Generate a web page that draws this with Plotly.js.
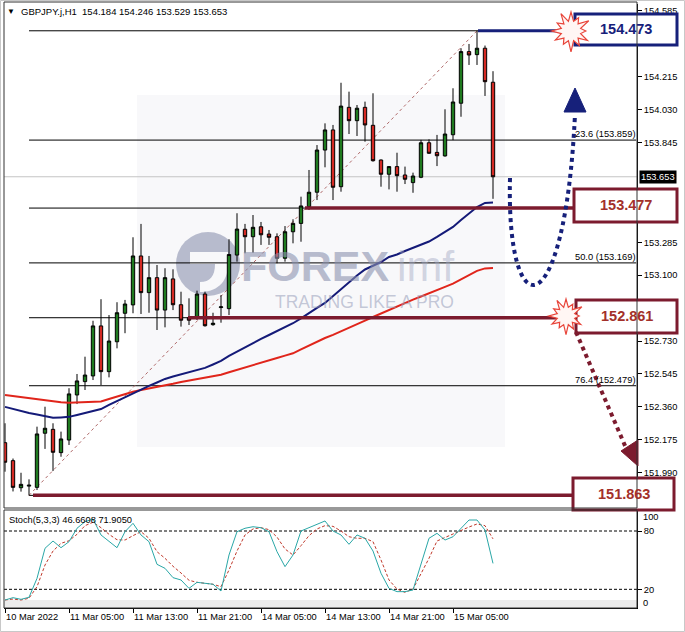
<!DOCTYPE html>
<html><head><meta charset="utf-8">
<script src="https://cdn.plot.ly/plotly-3.0.1.min.js"></script>
<style>html,body{margin:0;padding:0;background:#fff;}#chart{width:685px;height:632px;}</style>
</head><body><div id="chart"></div>
<script>
const times = [
"10 Mar 21:00","10 Mar 22:00","10 Mar 23:00",
"11 Mar 00:00","11 Mar 01:00","11 Mar 02:00","11 Mar 03:00","11 Mar 04:00","11 Mar 05:00","11 Mar 06:00","11 Mar 07:00",
"11 Mar 08:00","11 Mar 09:00","11 Mar 10:00","11 Mar 11:00","11 Mar 12:00","11 Mar 13:00","11 Mar 14:00","11 Mar 15:00",
"11 Mar 16:00","11 Mar 17:00","11 Mar 18:00","11 Mar 19:00","11 Mar 20:00","11 Mar 21:00","11 Mar 22:00","11 Mar 23:00",
"14 Mar 00:00","14 Mar 01:00","14 Mar 02:00","14 Mar 03:00","14 Mar 04:00","14 Mar 05:00","14 Mar 06:00","14 Mar 07:00",
"14 Mar 08:00","14 Mar 09:00","14 Mar 10:00","14 Mar 11:00","14 Mar 12:00","14 Mar 13:00","14 Mar 14:00","14 Mar 15:00",
"14 Mar 16:00","14 Mar 17:00","14 Mar 18:00","14 Mar 19:00","14 Mar 20:00","14 Mar 21:00","14 Mar 22:00","14 Mar 23:00",
"15 Mar 00:00","15 Mar 01:00","15 Mar 02:00","15 Mar 03:00","15 Mar 04:00","15 Mar 05:00","15 Mar 06:00","15 Mar 07:00",
"15 Mar 08:00","15 Mar 09:00","15 Mar 10:00"];

const openP = [152.159,152.058,151.906,151.915,151.908,152.212,152.234,152.103,152.174,152.427,
152.502,152.534,152.815,152.558,152.726,152.886,152.933,153.208,153.002,153.086,
152.904,153.079,152.934,152.861,152.867,152.994,152.822,152.918,152.912,153.213,
153.358,153.316,153.372,153.331,153.316,153.195,153.344,153.391,153.485,153.566,
153.803,153.916,153.597,154.043,153.968,154.043,153.942,153.747,153.667,153.710,
153.663,153.620,153.650,153.844,153.790,153.770,153.889,154.066,154.356,154.339,
154.375,154.184];
const highP = [152.268,152.070,151.990,151.953,152.249,152.361,152.268,152.221,152.465,152.545,
152.642,152.844,152.965,152.876,152.948,152.961,153.313,153.388,153.208,153.157,
153.139,153.133,153.007,152.970,153.013,153.007,152.889,152.988,153.302,153.448,
153.388,153.438,153.399,153.354,153.335,153.376,153.414,153.541,153.691,153.831,
153.953,153.944,154.181,154.131,154.056,154.075,154.122,153.750,153.712,153.788,
153.710,153.676,153.860,153.863,153.888,154.032,154.150,154.375,154.399,154.473,
154.390,154.246];
const lowP = [151.996,151.885,151.884,151.863,151.893,152.124,152.000,152.080,152.146,152.376,
152.455,152.511,152.483,152.526,152.689,152.774,152.886,152.882,152.889,152.792,
152.807,152.904,152.811,152.820,152.848,152.811,152.816,152.833,152.876,153.176,
153.223,153.226,153.270,153.270,153.167,153.176,153.279,153.288,153.466,153.522,
153.706,153.522,153.569,153.893,153.882,153.850,153.738,153.597,153.582,153.569,
153.612,153.563,153.645,153.781,153.713,153.766,153.859,153.990,154.281,154.281,
154.107,153.529];
const closeP = [152.049,151.908,151.925,151.920,152.208,152.240,152.105,152.180,152.433,152.506,
152.539,152.815,152.558,152.730,152.889,152.938,153.208,153.002,153.086,152.904,
153.086,152.934,152.847,152.847,152.994,152.816,152.830,152.922,153.216,153.359,
153.316,153.369,153.327,153.313,153.195,153.344,153.391,153.489,153.566,153.803,
153.916,153.594,154.050,153.968,154.038,153.944,153.743,153.667,153.710,153.659,
153.639,153.657,153.844,153.785,153.771,153.893,154.073,154.356,154.337,154.375,
154.187,153.653];

const maBlue = [152.360,152.348,152.334,152.326,152.317,152.306,152.299,152.301,152.304,152.315,
152.326,152.337,152.348,152.371,152.393,152.416,152.436,152.458,152.478,152.497,
152.517,152.531,152.542,152.553,152.565,152.579,152.598,152.618,152.646,152.671,
152.694,152.717,152.742,152.764,152.786,152.809,152.830,152.857,152.888,152.916,
152.944,152.983,153.022,153.062,153.098,153.132,153.154,153.174,153.202,153.216,
153.236,153.253,153.270,153.289,153.315,153.343,153.371,153.410,153.447,153.483,
153.506,153.508];
const maRed = [152.427,152.421,152.415,152.409,152.403,152.398,152.392,152.386,152.384,152.385,
152.386,152.388,152.390,152.404,152.419,152.433,152.445,152.455,152.463,152.472,
152.481,152.490,152.500,152.508,152.518,152.525,152.533,152.541,152.555,152.569,
152.581,152.595,152.608,152.622,152.635,152.648,152.661,152.683,152.705,152.728,
152.747,152.765,152.784,152.806,152.826,152.845,152.865,152.885,152.904,152.924,
152.944,152.963,152.980,152.997,153.017,153.034,153.053,153.076,153.101,153.124,
153.138,153.140];

const stochMain = [9.0,11.4,9.7,11.8,31.3,62.2,69.7,62.8,69.0,82.8,
89.6,92.3,75.9,69.7,62.8,79.3,87.9,75.9,69.0,45.7,
41.6,32.0,29.6,21.0,27.2,26.2,25.2,18.3,55.3,79.3,
82.8,84.4,83.4,79.3,58.7,43.3,55.3,80.0,83.4,86.2,
90.3,80.0,75.9,66.3,75.9,72.5,59.4,36.5,21.0,17.6,
17.6,19.3,46.8,72.5,77.6,70.7,74.1,82.8,91.3,91.3,
81.0,46.6608];
const stochSignal = [9.0,10.0,9.0,10.8,22.7,45.0,59.4,67.3,70.0,76.6,
85.5,89.0,83.4,76.6,71.0,70.7,75.2,79.3,72.5,58.7,
51.9,43.7,36.8,29.3,27.2,26.5,25.2,22.7,39.9,59.4,
75.9,82.1,83.4,81.4,73.8,61.5,55.3,64.9,75.2,82.1,
85.5,84.8,80.0,74.1,72.5,72.5,69.0,50.2,29.6,20.3,
16.9,20.3,35.5,51.9,69.7,73.5,76.6,81.0,84.1,87.2,
85.5,71.905];

const tickTimes = ["10 Mar 21:00","11 Mar 05:00","11 Mar 13:00","11 Mar 21:00","14 Mar 05:00","14 Mar 13:00","14 Mar 21:00","15 Mar 05:00"];
const tickLabels = ["10 Mar 2022","11 Mar 05:00","11 Mar 13:00","11 Mar 21:00","14 Mar 05:00","14 Mar 13:00","14 Mar 21:00","15 Mar 05:00"];
const priceTicks = [154.585,154.215,154.030,153.845,153.285,153.100,152.730,152.545,152.360,152.175,151.990];
const stochTicks = [20,80];
const stochEdgeLabels = ["100","0"];

const fibLevels = [154.473,153.859,153.477,153.169,152.861,152.479,151.863];
const fibShownLevels = [153.859,153.169,152.479];
const fibShownLabels = ["23.6 (153.859)","50.0 (153.169)","76.4 (152.479)"];
const fibStart = {time:"11 Mar 00:00", price:151.863};
const fibEnd = {time:"15 Mar 08:00", price:154.473};
const lastPrice = 153.653;
const headerText = "GBPJPY.j,H1  154.184 154.246 153.529 153.653";
const stochText = "Stoch(5,3,3) 46.6608 71.9050";
const keyLevels = [154.473,153.477,152.861,151.863];
const keyLabels = ["154.473","153.477","152.861","151.863"];

// ---------- geometry helpers (pixels -> paper) ----------
const L=4,R=637,T=4,B=608;
const fx = px => (px-L)/(R-L);
const fy = py => (B-py)/(B-T);
const P = (px,py) => fx(px)+','+fy(py);
const FONT = 'Liberation Sans, Arial, sans-serif';
const NAVY = '#16207a', MAROON = '#7c1b2e', MTEXT = '#a3302a';

const shapes = [];
const ann = [];
function txt(o){ return Object.assign({showarrow:false,xanchor:'center',yanchor:'middle',borderpad:0},o); }

// outer frame
shapes.push({type:'rect',xref:'paper',yref:'paper',x0:fx(0.5),x1:fx(684.5),y0:fy(0.5),y1:fy(631.5),line:{color:'#c8c8c8',width:1},layer:'below'});
// watermark background block
shapes.push({type:'rect',xref:'paper',yref:'paper',x0:fx(137),x1:fx(505),y0:fy(95),y1:fy(447),fillcolor:'#f8f8fa',line:{width:0},layer:'below'});
// stoch grey band
shapes.push({type:'rect',xref:'paper',yref:'paper',x0:0,x1:1,y0:fy(608),y1:fy(600),fillcolor:'#ececec',line:{width:0},layer:'below'});
// current price line
shapes.push({type:'line',xref:'paper',yref:'y',x0:0,x1:1,y0:lastPrice,y1:lastPrice,line:{color:'#c4c4c4',width:1},layer:'below'});
// fib level lines
fibLevels.forEach(v=>shapes.push({type:'line',xref:'x',yref:'y',x0:fibStart.time,x1:78.9,y0:v,y1:v,line:{color:'#000',width:1},layer:'below'}));
// fib diagonal
shapes.push({type:'line',xref:'x',yref:'y',x0:fibStart.time,x1:fibEnd.time,y0:fibStart.price,y1:fibEnd.price,line:{color:'#b06a6a',width:1,dash:'3px,3px'},layer:'below'});
// stoch level lines
stochTicks.forEach(v=>shapes.push({type:'line',xref:'paper',yref:'y2',x0:0,x1:1,y0:v,y1:v,line:{color:'#000',width:1,dash:'3px,2px'},layer:'below'}));

// thick level lines
shapes.push({type:'line',xref:'paper',yref:'y',x0:fx(478),x1:fx(576),y0:keyLevels[0],y1:keyLevels[0],line:{color:NAVY,width:3}});
shapes.push({type:'line',xref:'paper',yref:'y',x0:fx(305),x1:fx(576),y0:keyLevels[1],y1:keyLevels[1],line:{color:MAROON,width:3.5}});
shapes.push({type:'line',xref:'paper',yref:'y',x0:fx(188),x1:fx(556),y0:keyLevels[2],y1:keyLevels[2],line:{color:MAROON,width:3.5}});
shapes.push({type:'line',xref:'paper',yref:'y',x0:fx(33),x1:fx(574),y0:keyLevels[3],y1:keyLevels[3],line:{color:MAROON,width:3.5}});

// label boxes
const boxes = [[575,677,14,45,NAVY],[574,677,189,222,MAROON],[576,677,300,333,MAROON],[573,674,478,510,MAROON]];
boxes.forEach(b=>shapes.push({type:'rect',xref:'paper',yref:'paper',x0:fx(b[0]),x1:fx(b[1]),y0:fy(b[3]),y1:fy(b[2]),fillcolor:'#fff',line:{color:b[4],width:3}}));

// star bursts
function star(cx,cy,ro,ri){
  const mult=[1,0.8,1.08,0.78,1,0.88,1.1,0.8,0.95,1.02,0.84,1.06];
  const n=mult.length; let d='';
  for(let k=0;k<n*2;k++){
    const a=-Math.PI/2+k*Math.PI/n;
    const r=(k%2===0)?ro*mult[k/2]:ri;
    const px=cx+r*Math.cos(a), py=cy+r*Math.sin(a);
    d+=(k===0?'M':'L')+P(px,py)+' ';
  }
  return d+'Z';
}
shapes.push({type:'path',xref:'paper',yref:'paper',path:star(571,31,19,10),fillcolor:'#fff6f4',line:{color:'#e8453a',width:1.2}});
shapes.push({type:'path',xref:'paper',yref:'paper',path:star(566,316,17,9),fillcolor:'#fff6f4',line:{color:'#e8453a',width:1.2}});

// navy dotted curve and arrow head
shapes.push({type:'path',xref:'paper',yref:'paper',path:'M'+P(510,178)+' C'+P(506,330)+' '+P(565,330)+' '+P(575,114),line:{color:NAVY,width:4,dash:'dot'}});
shapes.push({type:'path',xref:'paper',yref:'paper',path:'M'+P(575,88)+' L'+P(564,112)+' L'+P(586,112)+' Z',fillcolor:NAVY,line:{color:NAVY,width:1}});
// maroon dotted line and arrow head
shapes.push({type:'path',xref:'paper',yref:'paper',path:'M'+P(576,332)+' L'+P(626,448),line:{color:MAROON,width:4,dash:'dot'}});
shapes.push({type:'path',xref:'paper',yref:'paper',path:'M'+P(621,451)+' L'+P(638,440)+' L'+P(638,466)+' Z',fillcolor:MAROON,line:{color:MAROON,width:1}});

// watermark logo
shapes.push({type:'circle',xref:'paper',yref:'paper',x0:fx(176),x1:fx(240),y0:fy(296),y1:fy(232),fillcolor:'rgba(140,146,175,0.6)',line:{width:0},layer:'below'});
shapes.push({type:'path',xref:'paper',yref:'paper',path:'M'+P(190,252)+' L'+P(228,252)+' L'+P(228,264)+' C'+P(228,284)+' '+P(215,292)+' '+P(200,292)+' L'+P(200,282)+' C'+P(210,282)+' '+P(215,276)+' '+P(215,264)+' L'+P(190,264)+' Z',fillcolor:'#f8f8fa',line:{width:0},layer:'below'});
ann.push(txt({xref:'paper',yref:'paper',x:fx(240),y:fy(266),xanchor:'left',text:'<b>FOREX</b>',font:{family:FONT,size:43,color:'rgba(140,146,175,0.6)'}}));
ann.push(txt({xref:'paper',yref:'paper',x:fx(396),y:fy(266),xanchor:'left',text:'imf',font:{family:FONT,size:43,color:'rgba(160,166,195,0.45)'}}));
ann.push(txt({xref:'paper',yref:'paper',x:fx(274),y:fy(302),xanchor:'left',text:'TRADING LIKE A PRO',font:{family:FONT,size:17.5,color:'rgba(150,156,185,0.55)'}}));

// header texts
ann.push(txt({xref:'paper',yref:'paper',x:fx(11),y:fy(12),text:'▼',font:{family:FONT,size:8,color:'#000'}}));
ann.push(txt({xref:'paper',yref:'paper',x:fx(20),y:fy(12),xanchor:'left',text:headerText.replace(/ /g,'\u00a0'),font:{family:FONT,size:9.5,color:'#000'}}));
ann.push(txt({xref:'paper',yref:'paper',x:fx(8),y:fy(520),xanchor:'left',text:stochText,font:{family:FONT,size:9.3,color:'#000'}}));

// box texts
const boxCenters = [[626,29,NAVY],[625.5,205.5,MTEXT],[626.5,316.5,MTEXT],[623.5,494,MTEXT]];
boxCenters.forEach((c,i)=>ann.push(txt({xref:'paper',yref:'paper',x:fx(c[0]),y:fy(c[1]),text:'<b>'+keyLabels[i]+'</b>',font:{family:FONT,size:14.5,color:c[2]}})));

// fib labels
fibShownLevels.forEach((v,i)=>ann.push(txt({xref:'paper',yref:'y',x:fx(636),y:v,xanchor:'right',yanchor:'bottom',text:fibShownLabels[i],font:{family:FONT,size:9.3,color:'#000'}})));

// current price label
ann.push(txt({xref:'paper',yref:'y',x:fx(639),y:lastPrice,xanchor:'left',text:lastPrice.toFixed(3),bgcolor:'#000',font:{family:FONT,size:9.3,color:'#fff'},borderpad:1}));
// stoch 100 / 0
ann.push(txt({xref:'paper',yref:'paper',x:fx(642),y:fy(517),xanchor:'left',text:stochEdgeLabels[0],font:{family:FONT,size:9.3,color:'#000'}}));
ann.push(txt({xref:'paper',yref:'paper',x:fx(642),y:fy(603),xanchor:'left',text:stochEdgeLabels[1],font:{family:FONT,size:9.3,color:'#000'}}));

// panel borders
shapes.push({type:'rect',xref:'paper',yref:'paper',x0:0,x1:1,y0:fy(508),y1:fy(2),line:{color:'#333',width:1}});
shapes.push({type:'rect',xref:'paper',yref:'paper',x0:0,x1:1,y0:0,y1:fy(510),line:{color:'#333',width:1}});

const traces = [
 {type:'scatter',mode:'lines',x:times,y:maRed,line:{color:'#e0251b',width:2},xaxis:'x',yaxis:'y',hoverinfo:'skip'},
 {type:'scatter',mode:'lines',x:times,y:maBlue,line:{color:'#141a78',width:2},xaxis:'x',yaxis:'y',hoverinfo:'skip'},
 {type:'candlestick',x:times,open:openP,high:highP,low:lowP,close:closeP,xaxis:'x',yaxis:'y',
  increasing:{fillcolor:'#1f7a1f',line:{color:'#000',width:1}},
  decreasing:{fillcolor:'#d42a24',line:{color:'#000',width:1}},whiskerwidth:0,hoverinfo:'skip'},
 {type:'scatter',mode:'lines',x:times,y:stochSignal,line:{color:'#c0392b',width:1,dash:'3px,2px'},xaxis:'x2',yaxis:'y2',hoverinfo:'skip'},
 {type:'scatter',mode:'lines',x:times,y:stochMain,line:{color:'#2aa7a7',width:1},xaxis:'x2',yaxis:'y2',hoverinfo:'skip'}
];

const layout = {
 width:685,height:632,margin:{l:L,r:685-R,t:T,b:632-B},
 paper_bgcolor:'#fff',plot_bgcolor:'#fff',showlegend:false,boxgap:0.4,
 font:{family:FONT,size:9.3,color:'#000'},
 xaxis:{type:'category',range:[-0.125,79],domain:[0,1],anchor:'y',showticklabels:false,ticks:'',showgrid:false,zeroline:false,rangeslider:{visible:false},fixedrange:true},
 yaxis:{domain:[fy(508),1],range:[151.792,154.6235],side:'right',anchor:'x',tickvals:priceTicks,ticktext:priceTicks.map(v=>v.toFixed(3)),ticks:'outside',ticklen:4,tickcolor:'#000',showline:true,linecolor:'#000',showgrid:false,zeroline:false,tickfont:{family:FONT,size:9.3,color:'#000'}},
 xaxis2:{type:'category',matches:'x',range:[-0.125,79],domain:[0,1],anchor:'y2',tickvals:tickTimes,ticktext:tickLabels,ticks:'outside',ticklen:4,tickcolor:'#000',ticklabelposition:'outside right',showline:true,linecolor:'#000',showgrid:false,zeroline:false,tickfont:{family:FONT,size:9.3,color:'#000'}},
 yaxis2:{domain:[0,fy(510)],range:[0.78,101.6],side:'right',anchor:'x2',tickvals:stochTicks,ticks:'outside',ticklen:4,tickcolor:'#000',showline:true,linecolor:'#000',showgrid:false,zeroline:false,tickfont:{family:FONT,size:9.3,color:'#000'}},
 shapes:shapes,annotations:ann
};
Plotly.newPlot('chart',traces,layout,{displayModeBar:false,staticPlot:true});
</script></body></html>
